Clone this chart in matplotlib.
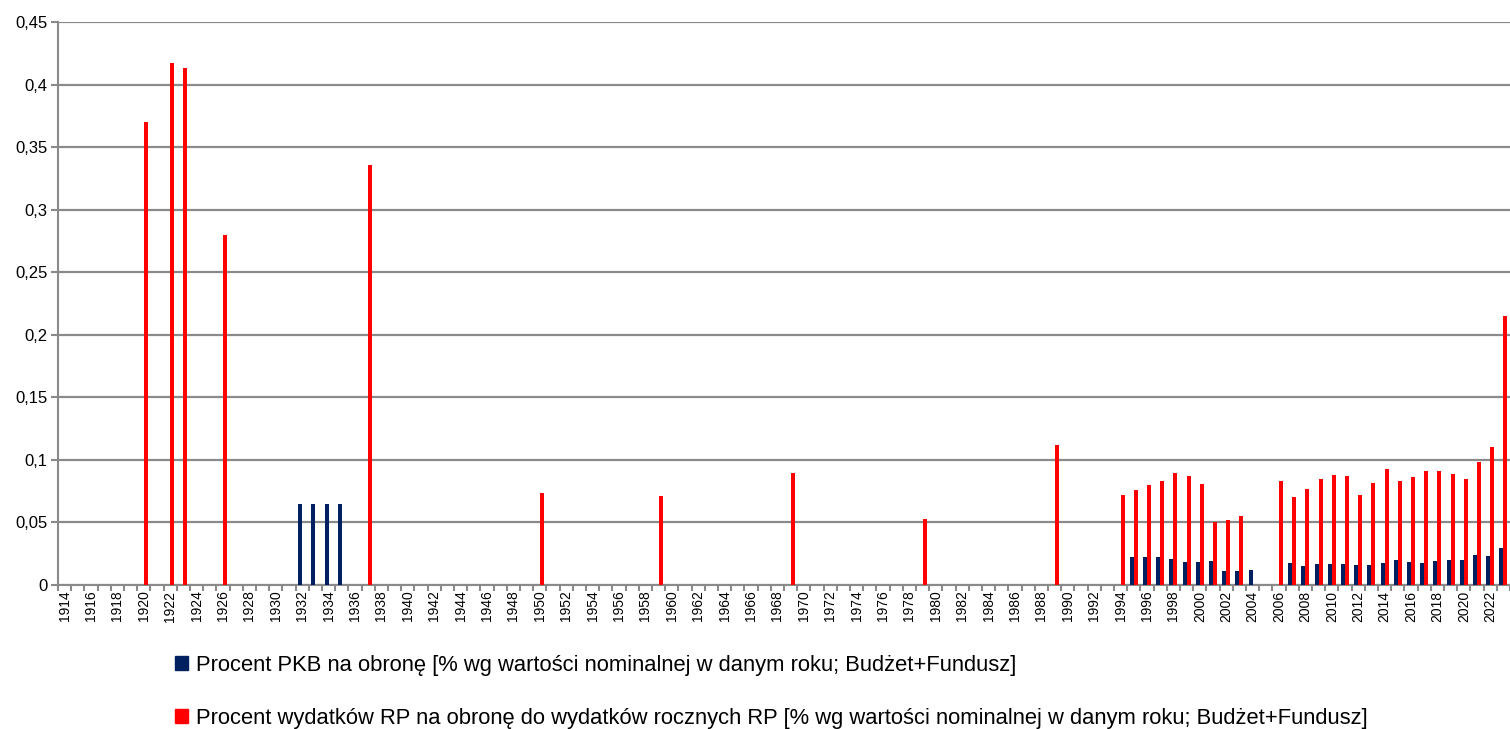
import numpy as np
import matplotlib
matplotlib.use('Agg')
import matplotlib.pyplot as plt
from matplotlib.patches import Patch
from matplotlib.ticker import FuncFormatter

plt.rcParams['font.family'] = ['Liberation Sans', 'DejaVu Sans']

# Year range on the category axis
first_year = 1914
last_year = 2023

# Procent PKB na obronę
pkb_years = [1932, 1933, 1934, 1935,
             1995, 1996, 1997, 1998, 1999, 2000, 2001, 2002, 2003, 2004,
             2007, 2008, 2009, 2010, 2011, 2012, 2013, 2014, 2015, 2016,
             2017, 2018, 2019, 2020, 2021, 2022, 2023]
pkb_values = [0.065, 0.065, 0.065, 0.065,
              0.0227, 0.0224, 0.0221, 0.0208, 0.0184, 0.0187, 0.0192, 0.0115, 0.0115, 0.0117,
              0.0176, 0.0149, 0.0165, 0.0171, 0.0168, 0.0163, 0.0160, 0.0176, 0.0203, 0.0184,
              0.0179, 0.0192, 0.0200, 0.0200, 0.0243, 0.0235, 0.0299]

# Procent wydatków RP na obronę do wydatków rocznych RP
exp_years = [1920, 1922, 1923, 1926, 1937, 1950, 1959, 1969, 1979, 1989,
             1994, 1995, 1996, 1997, 1998, 1999, 2000, 2001, 2002, 2003,
             2006, 2007, 2008, 2009, 2010, 2011, 2012, 2013, 2014, 2015,
             2016, 2017, 2018, 2019, 2020, 2021, 2022, 2023]
exp_values = [0.370, 0.4175, 0.413, 0.280, 0.3357, 0.0735, 0.0708, 0.0898, 0.0531, 0.1121,
              0.0717, 0.0760, 0.0797, 0.0832, 0.0896, 0.0872, 0.0808, 0.0507, 0.0523, 0.0552,
              0.0832, 0.0704, 0.0768, 0.0851, 0.0877, 0.0869, 0.0720, 0.0816, 0.0925, 0.0835,
              0.0861, 0.0909, 0.0909, 0.0891, 0.0848, 0.0984, 0.1101, 0.2153]

label_pkb = 'Procent PKB na obronę [% wg wartości nominalnej w danym roku; Budżet+Fundusz]'
label_exp = ('Procent wydatków RP na obronę do wydatków rocznych RP '
             '[% wg wartości nominalnej w danym roku; Budżet+Fundusz]')

navy = '#002060'
red = '#ff0000'
grey = '#8a8a8a'

fig = plt.figure(figsize=(15.1, 7.29), dpi=100)
ax = fig.add_axes([58 / 1510, 144 / 729, 1452 / 1510, 563 / 729])

pkb_x = np.array(pkb_years) - first_year
exp_x = np.array(exp_years) - first_year
ax.bar(pkb_x, pkb_values, width=-0.3, align='edge', color=navy, zorder=3)
ax.bar(exp_x, exp_values, width=0.3, align='edge', color=red, zorder=3)

# axis ends at the picture's right edge (last year is cut off)
ax.set_xlim(-0.5, -0.5 + 1452 / 13.25)
ax.set_ylim(0, 0.45)

for side in ['top', 'right']:
    ax.spines[side].set_visible(False)
for side in ['left', 'bottom']:
    ax.spines[side].set_color(grey)
    ax.spines[side].set_linewidth(1.5)

ax.set_yticks(np.arange(0, 0.451, 0.05))
ax.yaxis.set_major_formatter(FuncFormatter(
    lambda v, p: ('%.2f' % v).rstrip('0').rstrip('.').replace('.', ',')))
ax.tick_params(axis='y', length=5, width=1.5, color=grey, pad=2.5, labelsize=12)
ax.grid(axis='y', color=grey, linewidth=1.6, zorder=0)

all_years = np.arange(first_year, last_year + 1)
shown = all_years[::2]
ax.set_xticks(shown - first_year, [str(y) for y in shown], rotation=90)
ax.set_xticks(np.arange(-0.5, len(all_years) + 0.5, 1), minor=True)
ax.tick_params(axis='x', which='major', length=0, pad=4, labelsize=10)
ax.tick_params(axis='x', which='minor', length=4, width=1.5, color=grey)

handles = [Patch(color=navy), Patch(color=red)]
fig.legend(handles, [label_pkb, label_exp], loc='upper left',
           bbox_to_anchor=(175 / 1510, 1 - 655 / 729), frameon=False,
           fontsize=15.8, handlelength=0.6, handleheight=0.6,
           handletextpad=0.35, labelspacing=1.45, borderpad=0, borderaxespad=0)

fig.savefig('out.png', dpi=100)
